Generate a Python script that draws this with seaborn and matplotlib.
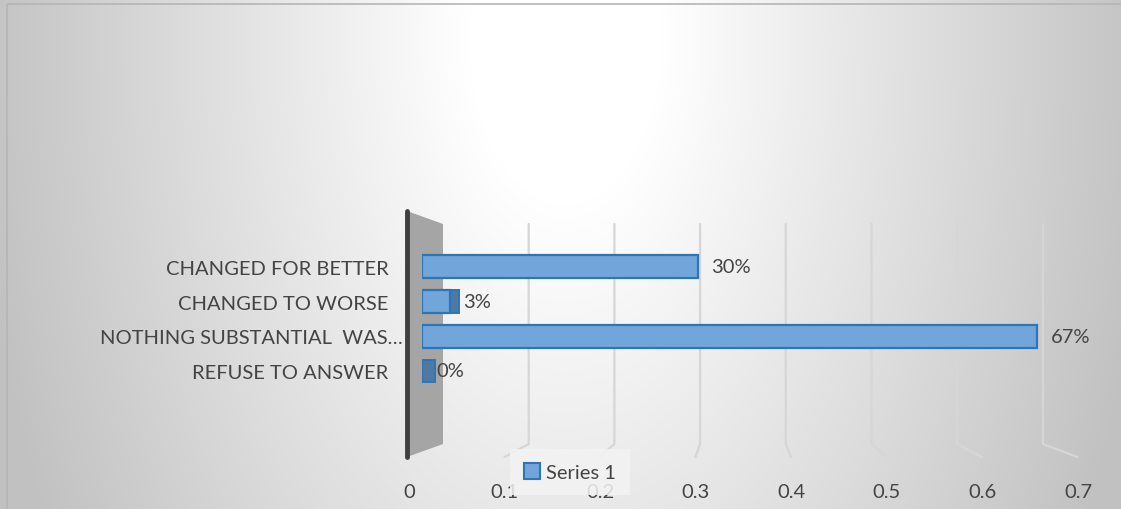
"""Excel style 3D horizontal bar chart, redrawn with seaborn."""

import matplotlib
matplotlib.use("Agg")
import matplotlib.pyplot as plt
import matplotlib.transforms as mtransforms
from matplotlib.patches import Polygon, Rectangle, Patch
import numpy as np
import pandas as pd
import seaborn as sns

# data
categories = ["CHANGED FOR BETTER", "CHANGED TO WORSE",
              "NOTHING SUBSTANTIAL  WAS…", "REFUSE TO ANSWER"]
values = [0.30, 0.03, 0.67, 0.00]
value_labels = ["30%", "3%", "67%", "0%"]
x_ticks = [0, 0.1, 0.2, 0.3, 0.4, 0.5, 0.6, 0.7]
x_tick_labels = ["0", "0.1", "0.2", "0.3", "0.4", "0.5", "0.6", "0.7"]
series_name = "Series 1"

W, H = 1121, 510
BAR_FACE = "#72a6db"
BAR_EDGE = "#2e75b6"
TEXT = "#444444"
FS = 14.5

sns.set_theme(style="white")
plt.rcParams["font.family"] = ["Lato", "DejaVu Sans"]

fig = plt.figure(figsize=(W / 100, H / 100), dpi=100)
# pixel coords, origin top-left
px = mtransforms.Affine2D().scale(1 / W, -1 / H).translate(0, 1) + fig.transFigure

# background: soft radial gradient
bg = fig.add_axes([0, 0, 1, 1], zorder=-10)
gx, gy = np.meshgrid(np.arange(W), np.arange(H))
d = np.sqrt(((gx - 565) / 640) ** 2 + ((gy - 40) / 1100) ** 2)
shade = 255 - 62 * np.clip((d - 0.15) / 0.78, 0, 1)
bg.imshow(np.dstack([shade] * 3).astype(np.uint8), aspect="auto",
          extent=(0, W, H, 0))
bg.set_axis_off()
bg.add_patch(Rectangle((7, 5), W, H, transform=px, fill=False,
                       edgecolor="#b5b5b5", lw=1.2, clip_on=False))

# main axes: bars (0 -> 422px, 0.7 -> 1065px)
ax = fig.add_axes([422 / W, 1 - 458 / H, 643 / W, 246 / H])
df = pd.DataFrame({"answer": categories, "share": values})
sns.barplot(data=df, x="share", y="answer", orient="h", color=BAR_FACE,
            saturation=1, edgecolor=BAR_EDGE, linewidth=1.6, width=0.66,
            ax=ax, zorder=3)
bars = list(ax.containers[0])
ax.set_xlim(0, 0.7)
ax.set_ylim(5.48, -1.61)
ax.set_facecolor("none")
for s in ax.spines.values():
    s.set_visible(False)
ax.set_xticks([])
ax.set_xlabel("")
ax.set_ylabel("")
ax.tick_params(axis="y", length=0, pad=24, labelsize=FS, labelcolor=TEXT)
# the truncated label runs a bit past the others, as in Excel
long_lbl = ax.get_yticklabels()[2]
long_lbl.set_transform(long_lbl.get_transform() +
                       mtransforms.ScaledTranslation(0.14, 0, fig.dpi_scale_trans))

# back wall + floor gridlines
back0, back_step = 443, 857
front0, front_step = 409, 955
for t in x_ticks[1:]:
    bx = back0 + back_step * t
    fx = front0 + front_step * t
    ax.plot([bx, bx, fx], [225, 445, 458], color="#d6d6d6", lw=1.6,
            transform=px, clip_on=False, zorder=0.5)
ax.add_patch(Polygon([(407, 212), (443, 225), (443, 445), (407, 458)],
                     closed=True, transform=px, facecolor="#a5a5a5",
                     edgecolor="none", clip_on=False, zorder=0.6))
ax.plot([407, 407], [212, 458], color="#3f3f3f", lw=3.5,
        solid_capstyle="round", transform=px, clip_on=False, zorder=0.7)

# darker end faces of the short bars (3D depth)
px_per_unit = 643 / 0.7
for p in bars:
    end_px = 422 + (p.get_x() + p.get_width()) * px_per_unit
    depth = 13 * np.clip((700 - end_px) / 250, 0, 1)
    if depth < 2:
        continue
    x0 = p.get_x() + p.get_width() - 4 / px_per_unit
    ax.add_patch(Rectangle((max(x0, 0), p.get_y()), depth / px_per_unit,
                           p.get_height(), facecolor="#4f78a3",
                           edgecolor=BAR_EDGE, lw=1.4, zorder=2.9))

ax.bar_label(ax.containers[0], labels=value_labels, padding=10,
             fontsize=FS, color=TEXT, zorder=5)

# front axis tick labels (0 -> 409px, 0.7 -> 1078px)
tax = fig.add_axes([409 / W, 1 - 483 / H, 669 / W, 0.001])
tax.set_xlim(0, 0.7)
tax.set_xticks(x_ticks)
tax.set_xticklabels(x_tick_labels)
tax.set_yticks([])
tax.set_facecolor("none")
for s in tax.spines.values():
    s.set_visible(False)
tax.tick_params(axis="x", length=0, pad=1, labelsize=FS, labelcolor=TEXT)

# legend
handle = Patch(facecolor=BAR_FACE, edgecolor=BAR_EDGE, lw=1.5)
leg = fig.legend([handle], [series_name], loc="center",
                 bbox_to_anchor=(570 / W, 1 - 473 / H),
                 bbox_transform=fig.transFigure, fontsize=FS,
                 handlelength=0.8, handleheight=0.8, handletextpad=0.3,
                 borderpad=0.7, borderaxespad=0, frameon=True,
                 fancybox=False)
leg.get_frame().set_facecolor("#f3f3f3")
leg.get_frame().set_alpha(0.85)
leg.get_frame().set_edgecolor("none")
for t in leg.get_texts():
    t.set_color(TEXT)

fig.savefig("out.png", dpi=100)
